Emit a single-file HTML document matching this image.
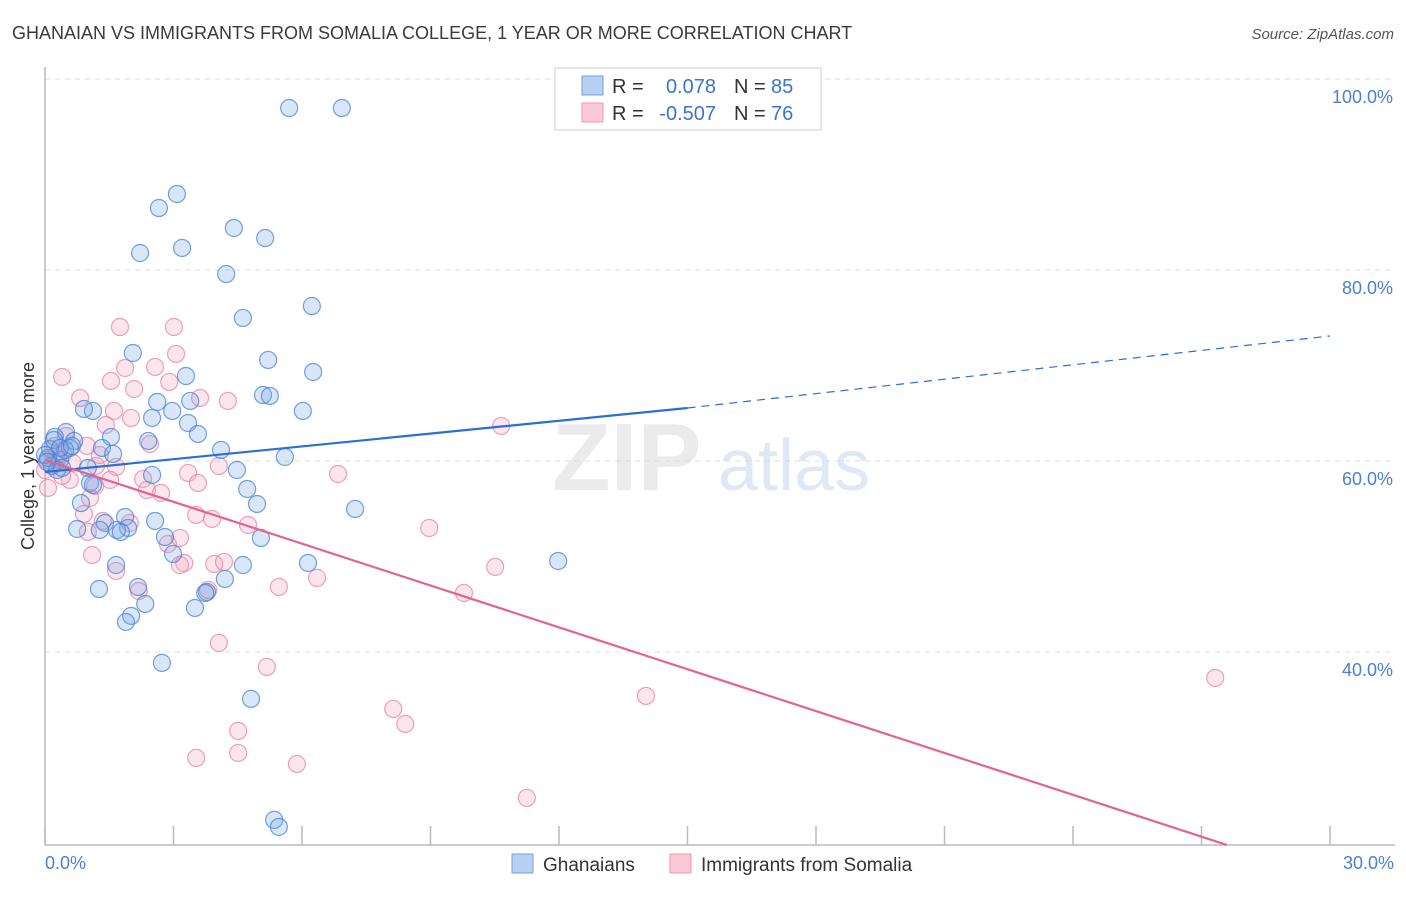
<!DOCTYPE html>
<html><head><meta charset="utf-8"><style>
body{margin:0;background:#fff;font-family:"Liberation Sans",sans-serif}
svg text{font-family:"Liberation Sans",sans-serif}
</style></head><body>
<svg id="chart" width="1406" height="892" viewBox="0 0 1406 892" xmlns="http://www.w3.org/2000/svg">
<text x="12" y="39" font-size="18" fill="#3a3a3a">GHANAIAN VS IMMIGRANTS FROM SOMALIA COLLEGE, 1 YEAR OR MORE CORRELATION CHART</text>
<text x="1394" y="39" font-size="15" fill="#555" text-anchor="end" font-style="italic">Source: ZipAtlas.com</text>
<g><text x="552" y="490" font-size="96" fill="#ebebeb" font-family="Liberation Serif" font-weight="bold">ZIP</text><text x="718" y="490" font-size="72" fill="#dfe9f6">atlas</text></g>
<g id="grid"></g>
<line x1="45" y1="67" x2="45" y2="845" stroke="#bbb" stroke-width="1.5"/>
<line x1="45" y1="845" x2="1395" y2="845" stroke="#bbb" stroke-width="1.5"/>
<g id="xticks"></g>
<text transform="translate(34,456) rotate(-90)" font-size="18" fill="#333" text-anchor="middle">College, 1 year or more</text>
<text x="45" y="869" font-size="18" fill="#4a7fd4">0.0%</text>
<text x="1394" y="869" font-size="18" fill="#4a7fd4" text-anchor="end">30.0%</text>
<g id="pts-pink"></g><g id="pts-blue"></g><g id="trends"></g>
<g>
<rect x="555" y="68" width="266" height="62" fill="#fff" stroke="#ccc"/>
<rect x="582" y="76" width="21" height="19" fill="#b6d0f2" stroke="#6fa0e0"/>
<rect x="582" y="103" width="21" height="19" fill="#fac8d6" stroke="#ee9ab4"/>
<text x="612" y="93" font-size="20" fill="#333">R =</text><text x="716" y="93" font-size="20" fill="#3a74d0" text-anchor="end">0.078</text>
<text x="734" y="93" font-size="20" fill="#333">N =</text><text x="771" y="93" font-size="20" fill="#3a74d0">85</text>
<text x="612" y="120" font-size="20" fill="#333">R =</text><text x="716" y="120" font-size="20" fill="#3a74d0" text-anchor="end">-0.507</text>
<text x="734" y="120" font-size="20" fill="#333">N =</text><text x="771" y="120" font-size="20" fill="#3a74d0">76</text>
</g>
<g>
<rect x="512" y="854" width="21" height="19" fill="#b6d0f2" stroke="#6fa0e0"/>
<text x="543" y="871" font-size="19" fill="#333">Ghanaians</text>
<rect x="670" y="854" width="21" height="19" fill="#fac8d6" stroke="#ee9ab4"/>
<text x="701" y="871" font-size="19" fill="#333">Immigrants from Somalia</text>
</g>
</svg>
<script>
const yTicks=[100,80,60,40];
const yTickLabels=["100.0%","80.0%","60.0%","40.0%"];
const xTicks=[0,3,6,9,12,15,18,21,24,27,30];
const blueX=[5.70,6.93,3.08,2.66,4.41,5.14,3.20,2.22,4.23,6.23,4.62,2.05,5.21,6.26,3.29,5.09,5.25,3.39,2.62,2.97,6.02,1.12,0.91,2.50,3.34,3.57,0.49,0.23,1.54,2.41,0.68,1.33,4.11,1.59,5.60,0.35,4.48,1.00,0.16,2.50,1.05,1.12,4.72,4.95,0.84,7.24,2.57,1.87,1.40,0.75,1.28,1.94,1.68,1.77,5.04,2.80,2.99,11.98,6.14,4.62,1.66,4.20,2.17,1.26,2.34,3.78,3.74,3.50,2.01,1.89,2.73,4.81,5.35,5.46,0.12,0.07,0.28,0.40,0.58,0.47,0.21,0.0,0.05,0.35,0.63];
const blueY=[96.96,96.96,87.96,86.49,84.40,83.35,82.31,81.78,79.58,76.23,74.98,71.31,70.58,69.32,68.90,66.91,66.81,66.29,66.18,65.24,65.24,65.24,65.45,64.51,63.98,62.83,63.04,62.52,62.52,62.10,62.10,61.37,61.16,60.74,60.42,60.11,59.06,59.27,59.48,58.54,57.70,57.49,57.07,55.50,55.60,54.98,53.72,54.14,53.51,52.88,52.78,52.99,52.78,52.57,51.94,52.04,50.27,49.53,49.32,49.11,49.11,47.65,46.81,46.60,45.03,46.29,46.18,44.61,43.78,43.15,38.86,35.09,22.42,21.69,61.26,60.32,59.06,59.27,61.37,61.16,62.20,60.63,59.90,61.37,61.58];
const pinkX=[1.75,3.01,0.40,3.06,1.87,2.57,1.54,2.90,2.08,3.62,4.27,0.82,1.61,2.01,1.42,2.45,0.98,0.23,0.42,10.65,1.66,1.19,4.06,3.34,6.84,2.29,1.17,0.07,3.57,2.38,2.71,0.58,0.21,0.91,3.53,3.90,1.35,4.74,1.98,1.00,8.97,2.87,1.10,3.25,3.15,3.95,4.18,1.66,6.35,10.51,2.19,3.81,5.46,9.78,4.06,5.18,14.03,27.32,8.13,8.41,4.51,3.53,4.51,5.88,11.25,0.05,0,0.30,0.65,1.28,0.49,0.26,0.40,1.05,3.15,1.52];
const pinkY=[74.03,74.03,68.80,71.21,69.74,69.85,68.38,68.28,67.54,66.60,66.29,66.60,65.24,64.51,63.77,61.78,61.58,61.58,60.74,63.67,59.38,59.48,59.48,58.75,58.64,58.12,57.39,57.18,57.70,56.97,56.65,58.02,60.11,54.46,54.35,53.93,53.72,53.30,53.51,52.57,52.99,51.31,50.16,49.32,49.11,49.22,49.43,48.49,47.76,48.91,46.39,46.50,46.81,46.18,40.95,38.44,35.40,37.28,34.04,32.47,31.74,28.91,29.43,28.28,24.72,60.11,59.06,60.32,59.80,60.63,62.62,60.63,58.44,56.13,51.94,58.02];
const blueTrend=[58.85,65.55,73.09]; // values at x=0,15,30
const pinkTrend=[60.11,-1.461]; // intercept, slope per %
const NS="http://www.w3.org/2000/svg";
const sx=v=>45+v*1285/30;
const sy=v=>79+(100-v)*9.55;
function mk(tag,attrs,parent){const e=document.createElementNS(NS,tag);for(const k in attrs)e.setAttribute(k,attrs[k]);document.getElementById(parent).appendChild(e);return e;}
yTicks.forEach((t,i)=>{
 const l=mk('line',{x1:45,x2:1395,y1:sy(t),y2:sy(t),stroke:'#ddd','stroke-dasharray':'5,5'},'grid');
 
 
 const tx=mk('text',{x:1393,y:sy(t)+24,'font-size':18,fill:'#4a7fd4','text-anchor':'end'},'grid');
 tx.textContent=yTickLabels[i];
 
 
});
xTicks.forEach(t=>{
 const l=mk('line',{x1:sx(t),x2:sx(t),y1:826,y2:845,stroke:'#bbb','stroke-width':1.5},'xticks');
 
 
});
blueX.forEach((x,i)=>{
 const c=mk('circle',{cx:sx(x),cy:sy(blueY[i]),r:8.5,fill:'rgba(120,165,230,0.28)',stroke:'rgba(70,130,215,0.75)','stroke-width':1.2},'pts-blue');
 
 
});
pinkX.forEach((x,i)=>{
 const c=mk('circle',{cx:sx(x),cy:sy(pinkY[i]),r:8.5,fill:'rgba(245,165,190,0.28)',stroke:'rgba(232,130,165,0.75)','stroke-width':1.2},'pts-pink');
 
 
});
const b1=mk('line',{x1:sx(0),y1:sy(blueTrend[0]),x2:sx(15),y2:sy(blueTrend[1]),stroke:'#2a6fd6','stroke-width':2.2},'trends');


const b2=mk('line',{x1:sx(15),y1:sy(blueTrend[1]),x2:sx(30),y2:sy(blueTrend[2]),stroke:'#2a6fd6','stroke-width':1.2,'stroke-dasharray':'8,6'},'trends');


const yMin=19.8;
const xEnd=Math.min(30,(yMin-pinkTrend[0])/pinkTrend[1]);
const p=mk('line',{x1:sx(0),y1:sy(pinkTrend[0]),x2:sx(xEnd),y2:sy(pinkTrend[0]+pinkTrend[1]*xEnd),stroke:'#e4628f','stroke-width':2.2},'trends');


</script>
</body></html>
